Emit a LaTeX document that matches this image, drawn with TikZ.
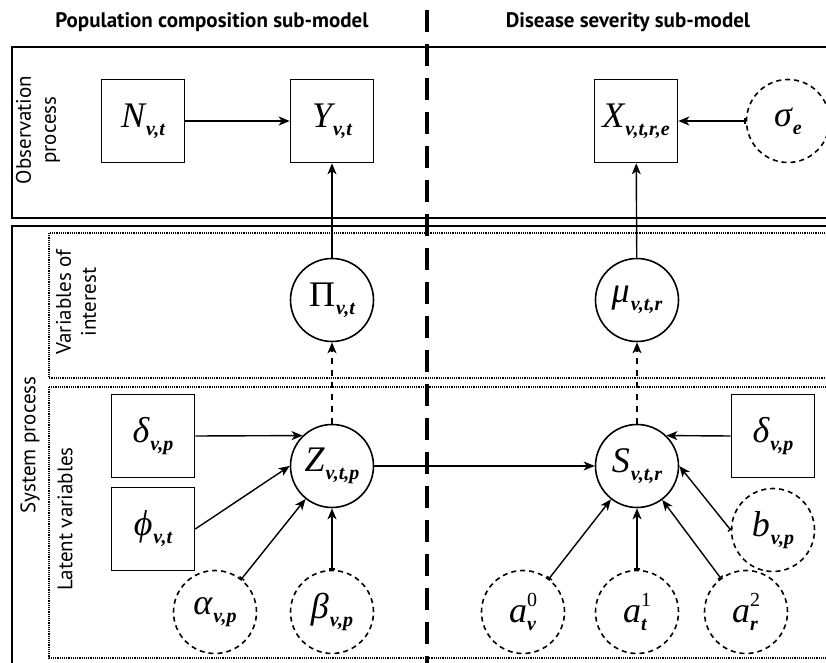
\documentclass[tikz,border=0pt]{standalone}
\usepackage{fontspec}
\setmainfont{PT Sans}
\newfontfamily\tms{Liberation Serif}
\usetikzlibrary{arrows.meta}
\newcommand{\var}[2]{{\tms\itshape #1}\kern0.5pt\raisebox{-4pt}{\fontsize{10}{10}\selectfont\tms\bfseries\itshape #2}}
\newcommand{\varsp}[3]{{\tms\itshape #1}\rlap{\raisebox{-4pt}{\fontsize{10}{10}\selectfont\tms\bfseries\itshape #2}}\raisebox{8pt}{\fontsize{10}{10}\selectfont\tms #3}}
\tikzset{
  obs/.style={draw,line width=0.8pt,minimum size=41.5pt,inner sep=0pt,
    font=\fontsize{18}{20}\selectfont},
  latent/.style={circle,draw,line width=0.8pt,minimum size=41.5pt,inner sep=0pt,
    font=\fontsize{18}{20}\selectfont},
  hyper/.style={latent,dashed,dash pattern=on 2.5pt off 2pt},
  arr/.style={line width=0.7pt,-{Stealth[length=5.5pt,width=4.5pt,inset=1.5pt]}},
  harr/.style={arr,{Bar[width=3pt]}-{Stealth[length=5.5pt,width=4.5pt,inset=1.5pt]}},
  frame/.style={line width=0.8pt},
  subframe/.style={line width=0.6pt,dash pattern=on 0.6pt off 0.5pt},
  title/.style={font=\bfseries\fontsize{10.5}{12}\selectfont},
  side/.style={rotate=90,align=center,font=\fontsize{10.5}{12.5}\selectfont}
}
\begin{document}
\begin{tikzpicture}[x=0.5pt,y=-0.5pt]
  \clip (0,0) rectangle (826,663);

  % frames
  \draw[frame] (12,47) rectangle (840,218);
  \draw[frame] (12,226) rectangle (840,680);
  \draw[subframe] (49,233) rectangle (840,378);
  \draw[subframe] (49,387) rectangle (840,658);
  \draw[line width=1.7pt,dash pattern=on 11pt off 6pt] (427,10) -- (427,670);

  \node[title] (tpop) at (212,22) {Population composition sub-model};
  \node[title] (tdis) at (628,22) {Disease severity sub-model};
  \node[side] (lobs) at (38,130) {Observation\\process};
  \node[side] (lint) at (76,302) {Variables of\\interest};
  \node[side] (lsys) at (30,445) {System process};
  \node[side] (llat) at (65,519) {Latent variables};

  % observation process
  \node[obs] (N) at (143,121) {\var{N}{v,t}};
  \node[obs] (Y) at (332,121) {\var{Y}{v,t}};
  \node[obs] (X) at (636,121) {\var{X}{v,t,r,e}};
  \node[hyper] (sig) at (788,121) {\var{σ}{e}};

  % variables of interest
  \node[latent] (Pi) at (332,300) {\var{\upshape Π}{v,t}};
  \node[latent] (mu) at (637,300) {\var{μ}{v,t,r}};

  % latent variables
  \node[latent] (Z) at (332,466) {\var{Z}{v,t,p}};
  \node[obs] (dZ) at (153,436) {\var{δ}{v,p}};
  \node[obs] (phi) at (153,529) {\var{ϕ}{v,t}};
  \node[hyper] (alpha) at (215,612) {\var{α}{v,p}};
  \node[hyper] (beta) at (332,612) {\var{β}{v,p}};

  \node[latent] (S) at (637,466) {\var{S}{v,t,r}};
  \node[obs] (dS) at (773,436) {\var{δ}{v,p}};
  \node[hyper] (b) at (773,530) {\var{b}{v,p}};
  \node[hyper] (a0) at (523,612) {\varsp{a}{v}{0}};
  \node[hyper] (a1) at (637,612) {\varsp{a}{t}{1}};
  \node[hyper] (a2) at (746,612) {\varsp{a}{r}{2}};

  \draw[arr] (N) -- (Y);
  \draw[arr] (Pi) -- (Y);
  \draw[arr] (mu) -- (X);
  \draw[harr] (sig) -- (X);
  \draw[arr,dashed] (Z) -- (Pi);
  \draw[arr,dashed] (S) -- (mu);

  \draw[arr] (dZ.east) -- (Z.134);
  \draw[arr] (phi.east) -- (Z.west);
  \draw[harr] (alpha) -- (Z);
  \draw[harr] (beta) -- (Z);
  \draw[arr] (Z) -- (S);

  \draw[arr] (dS.west) -- (S.46);
  \draw[harr] (b.west) -- (S.east);
  \draw[harr] (a0) -- (S);
  \draw[harr] (a1) -- (S);
  \draw[harr] (a2) -- (S);
\end{tikzpicture}
\end{document}
